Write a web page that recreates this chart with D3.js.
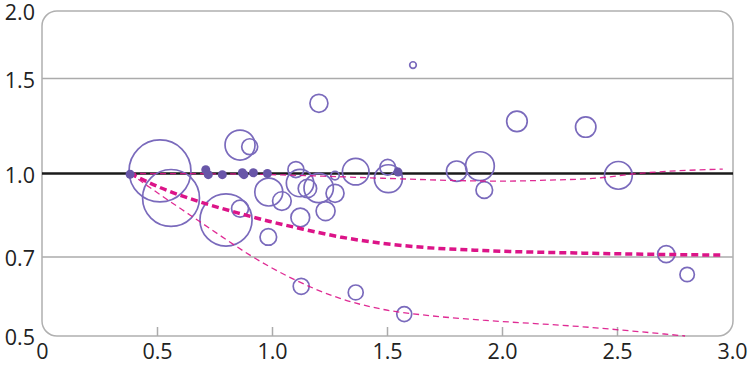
<!DOCTYPE html>
<html>
<head>
<meta charset="utf-8">
<script src="https://cdn.jsdelivr.net/npm/d3@7"></script>
<style>
  html, body { margin: 0; padding: 0; background: #fff; }
  svg { display: block; }
  .axis text { font-family: "Open Sans", sans-serif; font-size: 21.5px; fill: #222; }
</style>
</head>
<body>
<svg id="chart" width="748" height="369"></svg>
<script>
// ---- data ----
const xTicks = [0, 0.5, 1.0, 1.5, 2.0, 2.5, 3.0];
const xTickLabels = ["0", "0.5", "1.0", "1.5", "2.0", "2.5", "3.0"];
const yTicks = [0.5, 0.7, 1.0, 1.5, 2.0];
const yTickLabels = ["0.5", "0.7", "1.0", "1.5", "2.0"];
const gridValues = [0.7, 1.5];
const referenceValue = 1.0;

// open bubbles: x, ratio, weight
const bubbleX = [0.513, 0.561, 0.800, 0.861, 0.861, 0.903, 0.986, 1.043, 0.984, 1.104, 1.122, 1.154, 1.203, 1.274, 1.274, 1.233, 1.123, 1.364, 1.503, 1.506, 1.204, 1.613, 1.803, 1.904, 1.923, 2.065, 2.364, 2.506, 2.714, 2.805, 1.127, 1.364, 1.575];
const bubbleY = [1.011, 0.901, 0.820, 0.861, 1.129, 1.121, 0.924, 0.889, 0.763, 1.017, 0.960, 0.938, 0.940, 0.919, 0.991, 0.852, 0.829, 1.008, 1.027, 0.978, 1.349, 1.588, 1.010, 1.032, 0.932, 1.249, 1.219, 0.992, 0.709, 0.650, 0.618, 0.602, 0.549];
const bubbleW = [96, 81, 68, 7.2, 22.5, 6.4, 19.6, 8.7, 6.9, 6.4, 18.8, 8.5, 21.6, 8.1, 1.8, 9, 8.8, 17.7, 6.1, 19.6, 8.1, 1.1, 10.4, 20.7, 6.9, 10.6, 10.4, 19.3, 7.4, 5.2, 6.4, 5.6, 5.6];

// filled dots
const dotX = [0.383, 0.712, 0.723, 0.784, 0.871, 0.878, 0.919, 0.980, 1.548];
const dotY = [0.997, 1.016, 0.995, 0.995, 1.003, 0.995, 1.003, 1.000, 1.006];

// funnel curves
const upperX = [0.383, 0.70, 0.96, 1.24, 1.48, 1.99, 2.2, 2.43, 2.56, 2.96];
const upperY = [1.0, 0.999, 0.996, 0.988, 0.980, 0.968, 0.972, 0.982, 0.997, 1.019];
const midX = [0.383, 0.513, 0.687, 0.861, 0.991, 1.122, 1.296, 1.483, 1.674, 1.917, 2.352, 2.957];
const midY = [1.0, 0.942, 0.886, 0.843, 0.815, 0.791, 0.763, 0.742, 0.729, 0.720, 0.712, 0.706];
const lowerX = [0.383, 0.513, 0.643, 0.774, 0.904, 1.091, 1.296, 1.483, 1.674, 1.917, 2.352, 2.796];
const lowerY = [1.0, 0.914, 0.838, 0.768, 0.706, 0.638, 0.587, 0.560, 0.546, 0.535, 0.520, 0.5];

// ---- drawing ----
const svg = d3.select("#chart");
const L = 42, R = 733, T = 11, B = 336;
const x = d3.scaleLinear().domain([0, 3]).range([L, R - 1]);
const y = d3.scaleLog().domain([0.5, 2]).range([B, T]);
const r = d3.scaleSqrt().domain([0, 100]).range([0, 31.6]);

const magenta = "#dc1488";
const purple = "#7a6abc";
const dotFill = "#6856a8";

// gridlines
svg.append("g").selectAll("line").data(gridValues).join("line")
  .attr("x1", L).attr("x2", R)
  .attr("y1", d => y(d)).attr("y2", d => y(d))
  .attr("stroke", "#ababab").attr("stroke-width", 1.5);

// frame
svg.append("rect")
  .attr("x", L).attr("y", T).attr("width", R - L).attr("height", B - T)
  .attr("rx", 15).attr("ry", 15)
  .attr("fill", "none").attr("stroke", "#b0b0b0").attr("stroke-width", 1.5);

// x axis (inner ticks)
const xAxis = d3.axisBottom(x)
  .tickValues(xTicks)
  .tickFormat((d, i) => xTickLabels[i])
  .tickSizeInner(-9).tickSizeOuter(0).tickPadding(8);
const gx = svg.append("g").attr("class", "axis").attr("transform", `translate(0,${B})`).call(xAxis);
gx.select(".domain").remove();
gx.selectAll(".tick line").attr("stroke", "#ababab").attr("stroke-width", 1.5)
  .filter(d => d === 0 || d === 3).remove();
gx.selectAll(".tick text").attr("dy", "0.71em");

// y axis
const yAxis = d3.axisLeft(y)
  .tickValues(yTicks)
  .tickFormat((d, i) => yTickLabels[i])
  .tickSize(0).tickPadding(7);
const gy = svg.append("g").attr("class", "axis").attr("transform", `translate(${L},0)`).call(yAxis);
gy.select(".domain").remove();
gy.selectAll(".tick text").attr("dy", "0.4em");

// reference line
svg.append("line")
  .attr("x1", L).attr("x2", R)
  .attr("y1", y(referenceValue)).attr("y2", y(referenceValue))
  .attr("stroke", "#1a1a1a").attr("stroke-width", 2.5);

// bubbles
const bubbles = bubbleX.map((v, i) => ({x: v, y: bubbleY[i], w: bubbleW[i]}));
svg.append("g").selectAll("circle").data(bubbles).join("circle")
  .attr("cx", d => x(d.x)).attr("cy", d => y(d.y)).attr("r", d => r(d.w))
  .attr("fill", "none").attr("stroke", purple).attr("stroke-width", 1.7);

// funnel curves
const line = d3.line().x(d => x(d[0])).y(d => y(d[1])).curve(d3.curveMonotoneX);
const zip = (a, b) => a.map((v, i) => [v, b[i]]);
svg.append("path").datum(zip(upperX, upperY)).attr("d", line)
  .attr("fill", "none").attr("stroke", magenta).attr("stroke-width", 1.3)
  .attr("stroke-dasharray", "6,4").attr("opacity", 0.9);
svg.append("path").datum(zip(lowerX, lowerY)).attr("d", line)
  .attr("fill", "none").attr("stroke", magenta).attr("stroke-width", 1.3)
  .attr("stroke-dasharray", "6,4").attr("opacity", 0.9);
svg.append("path").datum(zip(midX, midY)).attr("d", line)
  .attr("fill", "none").attr("stroke", magenta).attr("stroke-width", 3.5)
  .attr("stroke-dasharray", "7,4");

// filled dots
const dots = dotX.map((v, i) => ({x: v, y: dotY[i]}));
svg.append("g").selectAll("circle").data(dots).join("circle")
  .attr("cx", d => x(d.x)).attr("cy", d => y(d.y)).attr("r", 4.5)
  .attr("fill", dotFill);
</script>
</body>
</html>
